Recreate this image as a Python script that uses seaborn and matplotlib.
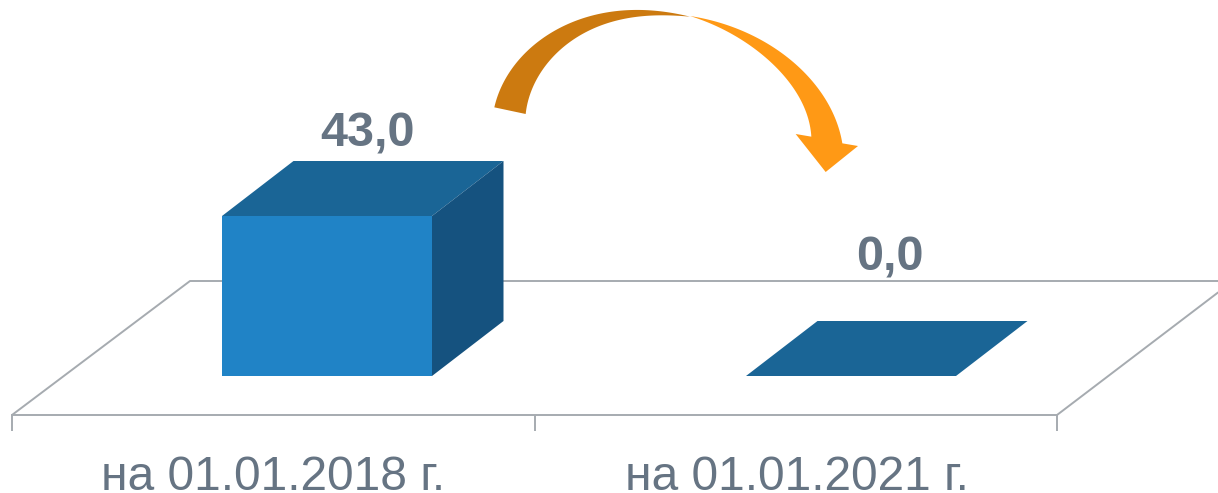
import numpy as np
import matplotlib
matplotlib.use("Agg")
import matplotlib.pyplot as plt
from matplotlib.transforms import Affine2D
import seaborn as sns
import pandas as pd

categories = ["на 01.01.2018 г.", "на 01.01.2021 г."]
values = [43.0, 0.0]
value_labels = ["43,0", "0,0"]

W, H = 1218, 493
sns.set_theme(style="white")
plt.rcParams["font.family"] = ["Liberation Sans", "DejaVu Sans"]

FRONT, TOP, SIDE = "#2083C6", "#1A6596", "#15527F"
TEXT, LINE = "#667483", "#A6ABB0"
DARK_OR, LIGHT_OR = "#CC7A10", "#FF9915"

fig = plt.figure(figsize=(W / 100, H / 100), dpi=100)
ax = fig.add_axes([0, 0, 1, 1])
ax.patch.set_alpha(0)
PIX = Affine2D().scale(1, -1).translate(0, H)

df = pd.DataFrame({"cat": categories, "val": values})
sns.barplot(data=df, x="cat", y="val", color=FRONT, saturation=1, width=210 / 524,
            ax=ax, zorder=3, linewidth=0)

xscale = 524.0
yscale = 160.0 / 43.0
ax.set_xlim(-327 / xscale, (W - 327) / xscale)
ax.set_ylim(-(H - 376) / yscale, 376 / yscale)
ax.set_xlabel("")
ax.set_ylabel("")
ax.set_yticks([])

ddx, ddy = 71.5 / xscale, 55 / yscale
for p in ax.patches:
    x0, w, h = p.get_x(), p.get_width(), p.get_height()
    ax.fill([x0, x0 + w, x0 + w + ddx, x0 + ddx], [h, h, h + ddy, h + ddy],
            color=TOP, lw=0, zorder=3)
    if h > 0:
        ax.fill([x0 + w, x0 + w + ddx, x0 + w + ddx, x0 + w],
                [0, ddy, h + ddy, h], color=SIDE, lw=0, zorder=3)

label_dx = 40 / xscale
for i, (v, s) in enumerate(zip(values, value_labels)):
    ax.text(i + label_dx - (-0.5 / xscale if v > 0 else 1.5 / xscale),
            v + (ddy + 5 / yscale if v > 0 else ddy + 41 / yscale), s,
            ha="center", va="bottom", fontsize=35, fontweight="bold", color=TEXT, zorder=5)

for s in ["top", "left", "right"]:
    ax.spines[s].set_visible(False)
sp = ax.spines["bottom"]
sp.set_visible(True)
sp.set_position(("data", -(415 - 376) / yscale))
sp.set_bounds((12 - 327) / xscale, (1057 - 327) / xscale)
sp.set_color(LINE)
sp.set_linewidth(1.4)
ax.set_xticks([i - 54 / xscale for i in range(len(categories))], categories)
ax.set_xticks([(px - 327) / xscale for px in (12, 534.5, 1057)], minor=True)
ax.tick_params(axis="x", which="major", length=0, pad=29, labelsize=34.5, labelcolor=TEXT)
ax.tick_params(axis="x", which="minor", length=11.5, width=1.4, color=LINE, direction="out", bottom=True)

ax.plot([12, 190, 1218], [415, 281, 281], color=LINE, lw=1.4, transform=PIX, zorder=1, clip_on=False)
ax.plot([1057, 1218], [415, 292.5], color=LINE, lw=1.4, transform=PIX, zorder=1, clip_on=False)


def smooth(points, deg=4, n=80):
    """Low-degree parametric fit of the arrow outline, pinned at both ends."""
    p = np.asarray(points, float)
    s = np.r_[0, np.cumsum(np.hypot(*np.diff(p, axis=0).T))]
    s = s / s[-1]
    w = np.ones(len(p))
    w[[0, -1]] = 50
    t = np.linspace(0, 1, n)
    return np.column_stack([np.polyval(np.polyfit(s, p[:, k], deg, w=w), t) for k in (0, 1)])


def zl(points):
    return np.asarray(points, float) / 3 + np.array([490, 0])


def zr(points):
    return np.asarray(points, float) / 3 + np.array([680, 0])


outer_l = zl([(13, 322), (35, 260), (70, 200), (120, 145), (180, 100), (250, 65), (330, 42), (410, 31), (490, 31), (600, 50)])
inner_l = zl([(600, 50), (520, 46), (440, 50), (360, 68), (280, 100), (210, 150), (160, 205), (130, 260), (107, 342)])
outer_r = zr([(30, 48), (100, 62), (180, 90), (260, 130), (330, 178), (390, 235), (435, 295), (465, 355), (487, 430)])
inner_r = zr([(394, 410), (380, 340), (350, 280), (310, 225), (260, 175), (200, 130), (130, 88), (70, 62), (30, 48)])
head = zr([(534, 438), (437, 516), (347, 402)])

left = np.vstack([smooth(outer_l), smooth(inner_l)])
right = np.vstack([smooth(outer_r), head, smooth(inner_r)])
ax.fill(left[:, 0], left[:, 1], color=DARK_OR, lw=0, transform=PIX, zorder=4, clip_on=False)
ax.fill(right[:, 0], right[:, 1], color=LIGHT_OR, lw=0, transform=PIX, zorder=4, clip_on=False)

fig.savefig("out.png", dpi=100)
